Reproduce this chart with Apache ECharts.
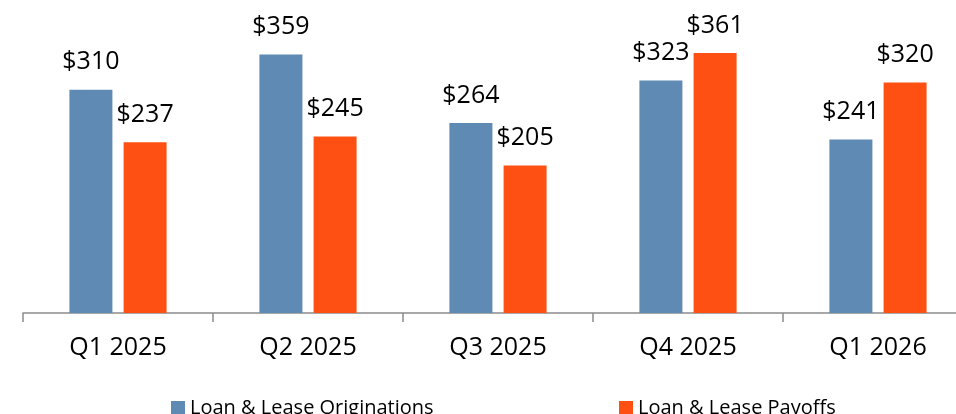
<!DOCTYPE html>
<html>
<head>
    <meta charset="UTF-8">
    <title>Loan & Lease Originations vs Payoffs</title>
    <script src="https://cdn.jsdelivr.net/npm/echarts@6/dist/echarts.min.js"></script>
    <style>
        html, body { margin: 0; padding: 0; background: #fff; }
        #main { width: 956px; height: 414px; }
    </style>
</head>
<body>
<div id="main"></div>
<script type="text/javascript">
// data ($ millions)
var quarters = ['Q1 2025', 'Q2 2025', 'Q3 2025', 'Q4 2025', 'Q1 2026'];
var originations = [310, 359, 264, 323, 241];
var payoffs = [237, 245, 205, 361, 320];
var seriesNames = ['Loan & Lease Originations', 'Loan & Lease Payoffs'];

var font = '"Open Sans", "Liberation Sans", sans-serif';

var myChart = echarts.init(document.getElementById('main'));

function barLabel() {
    return {
        show: true,
        position: 'top',
        distance: 15,
        color: '#000',
        fontFamily: font,
        fontSize: 25,
        formatter: function (p) { return '$' + p.value; }
    };
}

var option = {
    backgroundColor: '#fff',
    animation: false,
    // the last category runs past the right edge, as in the original slide
    grid: { left: 23, width: 950, top: 25, bottom: 101, containLabel: false, outerBoundsMode: 'none' },
    legend: [{
        data: [seriesNames[0]],
        left: 166,
        top: 393,
        icon: 'rect',
        itemWidth: 14,
        itemHeight: 14,
        itemGap: 5,
        textStyle: { fontFamily: font, fontSize: 20, color: '#000' }
    }, {
        data: [seriesNames[1]],
        left: 614,
        top: 393,
        icon: 'rect',
        itemWidth: 14,
        itemHeight: 14,
        itemGap: 5,
        textStyle: { fontFamily: font, fontSize: 20, color: '#000' }
    }],
    xAxis: {
        type: 'category',
        data: quarters,
        axisLine: { lineStyle: { color: '#8c8c8c', width: 1.5 } },
        axisTick: { show: true, length: 9, lineStyle: { color: '#8c8c8c', width: 1.5 } },
        axisLabel: { color: '#000', fontFamily: font, fontSize: 25, margin: 22 }
    },
    yAxis: {
        type: 'value',
        min: 0,
        max: 400,
        show: false,
        splitLine: { show: false }
    },
    series: [{
        name: seriesNames[0],
        type: 'bar',
        barWidth: 43,
        barGap: '26%',
        itemStyle: { color: '#5f8ab4' },
        label: barLabel(),
        data: originations
    }, {
        name: seriesNames[1],
        type: 'bar',
        barWidth: 43,
        barGap: '26%',
        itemStyle: { color: '#ff5014' },
        label: barLabel(),
        data: payoffs
    }]
};
myChart.setOption(option);
</script>
</body>
</html>
